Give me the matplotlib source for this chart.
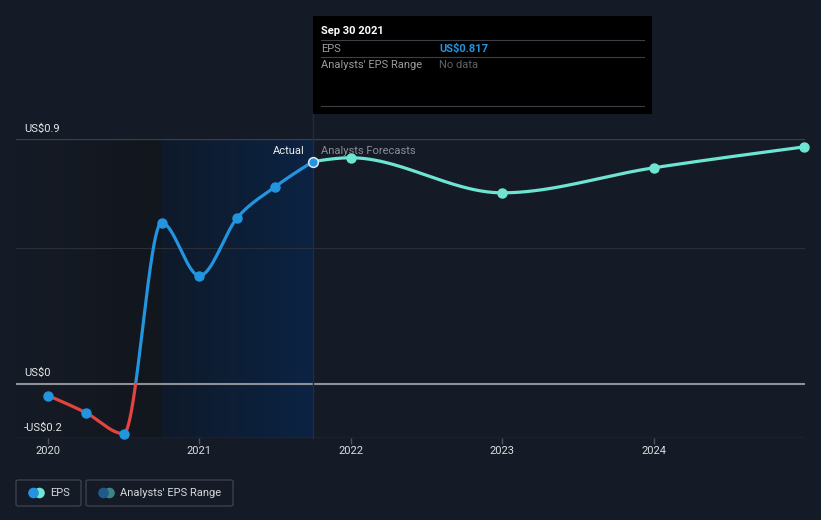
import numpy as np
import matplotlib
matplotlib.use("Agg")
import matplotlib.pyplot as plt
from matplotlib.patches import Rectangle, FancyBboxPatch, Circle
from matplotlib.colors import LinearSegmentedColormap
import matplotlib.transforms as mtransforms

plt.rcParams['font.family'] = ['Roboto', 'DejaVu Sans']

# ---- data ----
actual_x = [2020.0, 2020.25, 2020.5, 2020.75, 2021.0, 2021.25, 2021.5, 2021.75]
actual_y = [-0.044, -0.107, -0.184, 0.592, 0.397, 0.610, 0.724, 0.817]
fc_x = [2021.75, 2022.0, 2023.0, 2024.0, 2024.995]
fc_y = [0.817, 0.831, 0.702, 0.794, 0.871]
xticks = [2020, 2021, 2022, 2023, 2024]
xtick_labels = ["2020", "2021", "2022", "2023", "2024"]
ytick_vals = [0.9, 0.0, -0.2]
ytick_labels = ["US$0.9", "US$0", "-US$0.2"]

BG = "#151b26"
BLUE = "#2394df"
RED = "#e3443f"
TEAL = "#6ee5d2"


def monotone(xs, ys, n=400):
    xs = np.asarray(xs, float); ys = np.asarray(ys, float)
    h = np.diff(xs); d = np.diff(ys) / h
    m = np.zeros(len(xs))
    for i in range(1, len(xs) - 1):
        if d[i - 1] * d[i] <= 0:
            m[i] = 0
        else:
            p = (d[i - 1] * h[i] + d[i] * h[i - 1]) / (h[i - 1] + h[i])
            m[i] = (np.sign(d[i - 1]) + np.sign(d[i])) * min(abs(d[i - 1]), abs(d[i]), 0.5 * abs(p))
    m[0] = (3 * d[0] - m[1]) / 2
    m[-1] = (3 * d[-1] - m[-2]) / 2
    X = []; Y = []
    for i in range(len(xs) - 1):
        t = np.linspace(0, 1, n)
        hh = h[i]
        h00 = 2 * t**3 - 3 * t**2 + 1
        h10 = t**3 - 2 * t**2 + t
        h01 = -2 * t**3 + 3 * t**2
        h11 = t**3 - t**2
        X.append(xs[i] + t * hh)
        Y.append(h00 * ys[i] + h10 * hh * m[i] + h01 * ys[i + 1] + h11 * hh * m[i + 1])
    return np.concatenate(X), np.concatenate(Y)


W, H = 821, 520
fig = plt.figure(figsize=(W / 100, H / 100), dpi=100, facecolor=BG)

px_l, px_r, px_t, px_b = 16, 805, 139, 438
ax = fig.add_axes([px_l / W, (H - px_b) / H, (px_r - px_l) / W, (px_b - px_t) / H])
ax.set_facecolor(BG)
x0 = 2020 - 32 / 151.4
ax.set_xlim(x0, 2025.0)
ax.set_ylim(-0.2, 0.9)
for s in ax.spines.values():
    s.set_visible(False)

# shaded regions
grad = np.linspace(0, 1, 256).reshape(1, -1)
cm_dark = LinearSegmentedColormap.from_list("d", ["#151b26", "#12161d"])
cm_blue = LinearSegmentedColormap.from_list("b", ["#0f1a2a", "#0b2343"])
ax.imshow(grad, extent=[x0, 2020.75, -0.2, 0.9], aspect="auto", cmap=cm_dark, zorder=0.5)
ax.imshow(grad, extent=[2020.75, 2021.75, -0.2, 0.9], aspect="auto", cmap=cm_blue, zorder=0.5)

# gridlines
ax.axhline(0.9, color="#3a3f4b", lw=1, zorder=1)
ax.axhline(0.5, color="#2a303b", lw=0.8, zorder=1)
ax.axhline(-0.2, color="#3a3f4b", lw=1, zorder=1)
ax.axhline(0.0, color="#8e9198", lw=1.5, zorder=1)

# vertical line at today
ax.plot([2021.75, 2021.75], [-0.2, 1.0], color="#1e2c44", lw=1, zorder=1.5, clip_on=False)

# actual curve
cx, cy = monotone(actual_x, actual_y)
pos = np.ma.masked_where(cy < 0, cy)
neg = np.ma.masked_where(cy > 0, cy)
ax.plot(cx, pos, color=BLUE, lw=2.3, zorder=3, solid_capstyle="round")
ax.plot(cx, neg, color=RED, lw=2.3, zorder=3, solid_capstyle="round")
ax.plot(actual_x[:-1], actual_y[:-1], "o", color=BLUE, ms=6.5, zorder=4, clip_on=False)

# forecast curve
fx, fy = monotone(fc_x, fc_y)
ax.plot(fx, fy, color=TEAL, lw=2.3, zorder=3, clip_on=False)
ax.plot(fc_x[1:], fc_y[1:], "o", color=TEAL, ms=6.5, zorder=4, clip_on=False)
ax.plot([actual_x[-1]], [actual_y[-1]], "o", color=BLUE, ms=7, mec="#dbe8f5", mew=1.1, zorder=5)

# ticks
ax.set_xticks(xticks)
ax.set_xticklabels(xtick_labels)
ax.tick_params(axis="x", colors="#4a4f59", length=4, width=1, labelcolor="#dcdde0",
               labelsize=8, pad=1.5)
ax.set_yticks([])

ytrans = mtransforms.blended_transform_factory(fig.transFigure, ax.transData)
for v, lab in zip(ytick_vals, ytick_labels):
    ax.text(24 / W, v + 0.02, lab, transform=ytrans, fontsize=8, color="#e6e7ea", va="bottom")

ax.text(2021.75 - 0.055, 0.855, "Actual", color="#eeeeee", fontsize=8, ha="right", va="center", zorder=6)
ax.text(2021.75 + 0.05, 0.855, "Analysts Forecasts", color="#8a8e96", fontsize=8, ha="left", va="center", zorder=6)


def fx_(p):
    return p / W


def fy_(p):
    return 1 - p / H


# tooltip
fig.patches.append(Rectangle((fx_(313), fy_(114)), (652 - 313) / W, (114 - 16) / H,
                             transform=fig.transFigure, facecolor="#000000", edgecolor="none", zorder=5))
for yy in [40, 57, 106]:
    fig.lines.append(plt.Line2D([fx_(321), fx_(644)], [fy_(yy), fy_(yy)], transform=fig.transFigure,
                                color="#3c3f45", lw=0.8, zorder=6))
fig.text(fx_(321), fy_(31), "Sep 30 2021", color="#ffffff", fontsize=8, fontweight="bold", va="center", zorder=7)
fig.text(fx_(321), fy_(48.5), "EPS", color="#9a9ca2", fontsize=8, va="center", zorder=7)
fig.text(fx_(439), fy_(48.5), "US$0.817", color=BLUE, fontsize=8, fontweight="bold", va="center", zorder=7)
fig.text(fx_(321), fy_(65.5), "Analysts' EPS Range", color="#9a9ca2", fontsize=8, va="center", zorder=7)
fig.text(fx_(439), fy_(65.5), "No data", color="#5f6268", fontsize=8, va="center", zorder=7)

# legend
for (l, r) in [(16, 81), (86, 233)]:
    fig.patches.append(FancyBboxPatch((fx_(l), fy_(506)), (r - l) / W, 26 / H,
                                      boxstyle="round,pad=0,rounding_size=0.003",
                                      transform=fig.transFigure, facecolor="none",
                                      edgecolor="#3b404a", lw=1))
lax = fig.add_axes([0, 0, 1, 1], facecolor="none")
lax.set_xlim(0, W); lax.set_ylim(H, 0); lax.axis("off")
lax.add_patch(Circle((39.5, 493), 4.6, color="#6ee5d2"))
lax.add_patch(Circle((33.5, 493), 4.6, color=BLUE))
lax.add_patch(Circle((109.5, 493), 4.6, color="#3d8585"))
lax.add_patch(Circle((103.5, 493), 4.6, color="#1f5a8a"))
lax.text(50, 493, "EPS", color="#d6d7da", fontsize=8, va="center")
lax.text(120, 493, "Analysts' EPS Range", color="#d6d7da", fontsize=8, va="center")

fig.savefig("out.png", dpi=100, facecolor=BG)
